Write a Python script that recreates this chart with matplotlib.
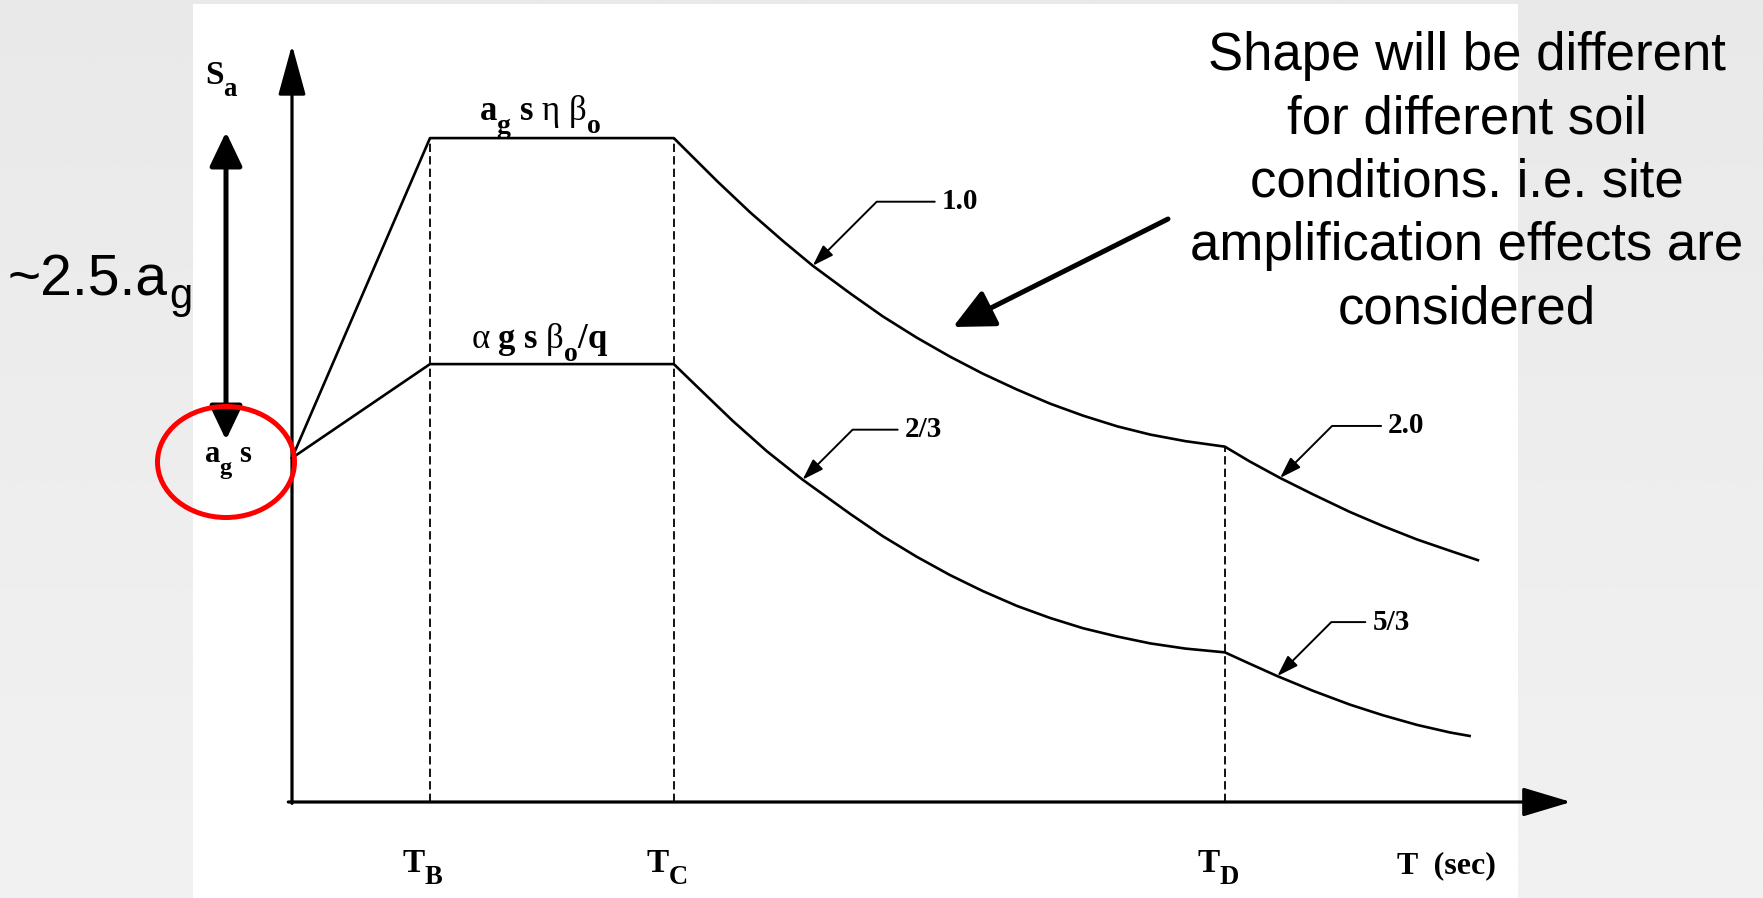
import numpy as np
import matplotlib
matplotlib.use("Agg")
import matplotlib.pyplot as plt
from matplotlib.patches import Ellipse, Rectangle

plt.rcParams['mathtext.fontset'] = 'custom'
plt.rcParams['mathtext.rm'] = 'Liberation Serif'
plt.rcParams['mathtext.it'] = 'Liberation Serif:italic'
plt.rcParams['mathtext.bf'] = 'Liberation Serif:bold'
plt.rcParams['lines.scale_dashes'] = False

# larger, lower subscripts in the bold serif labels
try:
    import matplotlib._mathtext as _mt
    _mt.SHRINK_FACTOR = 0.8
    _mt.FontConstantsBase.sub1 = 0.8
except Exception:
    pass

# ---------------------------------------------------------------- data
# Period T (s) and spectral acceleration Sa (in units of a_g*s)
upper_T = [0.000, 0.150, 0.415, 0.462, 0.498, 0.534, 0.566, 0.607, 0.642,
           0.679, 0.715, 0.751, 0.788, 0.824, 0.860, 0.897, 0.933, 0.971,
           1.014, 1.041, 1.074, 1.110, 1.150, 1.186, 1.223, 1.259, 1.289]
upper_Sa = [1.000, 1.930, 1.930, 1.805, 1.714, 1.630, 1.559, 1.478, 1.412,
            1.350, 1.295, 1.245, 1.199, 1.158, 1.123, 1.092, 1.068, 1.049,
            1.033, 0.990, 0.942, 0.894, 0.843, 0.802, 0.763, 0.730, 0.703]

lower_T = [0.000, 0.150, 0.415, 0.444, 0.479, 0.516, 0.555, 0.607, 0.642,
           0.679, 0.715, 0.751, 0.788, 0.824, 0.860, 0.897, 0.933, 0.971,
           1.014, 1.041, 1.071, 1.110, 1.150, 1.186, 1.223, 1.259, 1.280]
lower_Sa = [1.000, 1.273, 1.273, 1.198, 1.108, 1.020, 0.937, 0.837, 0.773,
            0.713, 0.660, 0.613, 0.570, 0.535, 0.505, 0.481, 0.461, 0.446,
            0.435, 0.402, 0.366, 0.323, 0.283, 0.252, 0.224, 0.202, 0.192]

# corner periods (indices into the curves above)
corner_idx = {'B': 1, 'C': 2, 'D': 18}
# exponents of the descending branches: (curve, point index, label)
exponent_labels = [('upper', 6, '1.0'), ('lower', 6, '2/3'),
                   ('upper', 20, '2.0'), ('lower', 20, '5/3')]
plateau_labels = [r'$\mathbf{a_g\ s}\ \mathrm{\eta}\ \mathrm{\beta}_\mathbf{o}$',
                  r'$\mathrm{\alpha}\ \mathbf{g\ s}\ \mathrm{\beta}_\mathbf{o}\mathbf{/q}$']
note_lines = ['Shape will be different', 'for different soil',
              'conditions. i.e. site', 'amplification effects are',
              'considered']

# ---------------------------------------------------------------- figure
W, H = 1763, 898
X0, Y0, KX, KY = 292, 802, 920, 344      # origin (px) and px per unit
fig = plt.figure(figsize=(W / 100, H / 100), dpi=100, facecolor='#ebebeb')


def px(x, y):
    """figure-fraction position of an image pixel (origin top-left)"""
    return x / W, 1 - y / H


# backdrop: faint grey surround with a white drawing sheet
bg = fig.add_axes([0, 0, 1, 1])
bg.set_xlim(0, W)
bg.set_ylim(H, 0)
bg.axis('off')
shade = np.linspace(0.912, 0.945, 300)[:, None] * np.ones((1, 20))
bg.imshow(shade, extent=(0, W, H, 0), cmap='gray', vmin=0, vmax=1,
          aspect='auto', interpolation='bilinear')
bg.add_patch(Rectangle((193, 4), 1325, H - 4, facecolor='white',
                       edgecolor='none'))

ax = fig.add_axes([0, 0, 1, 1])
ax.set_xlim(-X0 / KX, (W - X0) / KX)
ax.set_ylim(-(H - Y0) / KY, Y0 / KY)
ax.axis('off')

# axes with arrow heads
ax.annotate('', xy=(0, (Y0 - 45) / KY), xytext=(0, -0.004),
            arrowprops=dict(arrowstyle='-|>,head_length=31,head_width=8.5',
                            mutation_scale=1, lw=2.3, color='black',
                            shrinkA=0, shrinkB=0))
ax.annotate('', xy=((1571 - X0) / KX, 0), xytext=(-0.004, 0),
            arrowprops=dict(arrowstyle='-|>,head_length=30,head_width=9',
                            mutation_scale=1, lw=2.3, color='black',
                            shrinkA=0, shrinkB=0))

# spectra
ax.plot(upper_T, upper_Sa, color='black', lw=1.9, solid_joinstyle='round')
ax.plot(lower_T, lower_Sa, color='black', lw=1.9, solid_joinstyle='round')

# dashed corner-period verticals
for key, i in corner_idx.items():
    ax.plot([upper_T[i], upper_T[i]], [0, upper_Sa[i]], color='black',
            lw=1.3, dashes=(6, 3))

# corner-period labels
for key, i in corner_idx.items():
    ax.annotate(r'$\mathbf{T_%s}$' % key, xy=(upper_T[i], 0),
                xytext=(-7, -70), textcoords='offset pixels',
                ha='center', va='baseline', fontsize=24)
fig.text(*px(1446, 873), 'T  (sec)', ha='center', va='baseline',
         fontsize=23, fontweight='bold', family='Liberation Serif')

# plateau labels
for (T, Sa), lab, dy in zip([(upper_T, upper_Sa), (lower_T, lower_Sa)],
                            plateau_labels, [18, 16]):
    mid = 0.5 * (T[1] + T[2])
    ax.annotate(lab, xy=(mid, Sa[1]), xytext=(-12, dy),
                textcoords='offset pixels', ha='center', va='baseline',
                fontsize=25)

# exponent leaders
curves = {'upper': (upper_T, upper_Sa), 'lower': (lower_T, lower_Sa)}
leader_geom = {'1.0': (64, 129), '2/3': (50, 102), '2.0': (52, 108),
               '5/3': (54, 95)}
for name, i, lab in exponent_labels:
    T, Sa = curves[name]
    rise, lx = leader_geom[lab]
    ax.annotate(lab, xy=(T[i], Sa[i]), xytext=(lx, rise),
                textcoords='offset pixels', ha='left', va='center',
                fontsize=21, fontweight='bold', family='Liberation Serif',
                arrowprops=dict(arrowstyle='-|>,head_length=13,head_width=4.3',
                                mutation_scale=1,
                                connectionstyle='angle,angleA=0,angleB=45,rad=0',
                                relpos=(0, 0.5), shrinkA=3, shrinkB=0,
                                lw=1.4, color='black'))

# Sa axis label
fig.text(*px(205, 84), r'$\mathbf{S_a}$', ha='left', va='baseline',
         fontsize=24)

# a_g s marker at the origin ordinate
ax.annotate(r'$\mathbf{a_g\ s}$', xy=(0, upper_Sa[0]), xytext=(-64, -4),
            textcoords='offset pixels', ha='center', va='baseline',
            fontsize=22)
ax.add_patch(Ellipse(((226 - X0) / KX, (Y0 - 462) / KY), 137 / KX, 111 / KY,
                     fill=False, edgecolor='#ff0000', lw=3.6, zorder=5))

# ~2.5 a_g double arrow
ax.annotate('', xy=((226 - X0) / KX, (Y0 - 132) / KY),
            xytext=((226 - X0) / KX, (Y0 - 440) / KY),
            arrowprops=dict(arrowstyle='<|-|>,head_length=21,head_width=10',
                            mutation_scale=1, lw=3.6, color='black',
                            shrinkA=0, shrinkB=0))
amp = fig.text(*px(8, 295), '~2.5.a', ha='left', va='baseline', fontsize=41,
               family='Liberation Sans')
fig.canvas.draw()
amp_box = amp.get_window_extent(fig.canvas.get_renderer())
fig.text((amp_box.x1 + 1) / W, 1 - 308 / H, 'g', ha='left', va='baseline',
         fontsize=30, family='Liberation Sans')

# note on soil conditions
for k, line in enumerate(note_lines):
    fig.text(*px(1467, 70 + 63.3 * k), line, ha='center', va='baseline',
             fontsize=38, family='Liberation Sans')
ax.annotate('', xy=((953 - X0) / KX, (Y0 - 327) / KY),
            xytext=((1168 - X0) / KX, (Y0 - 219) / KY),
            arrowprops=dict(arrowstyle='-|>,head_length=25,head_width=12',
                            mutation_scale=1, lw=3.6, color='black',
                            shrinkA=0, shrinkB=0))

fig.savefig('out.png', dpi=100, facecolor=fig.get_facecolor())
